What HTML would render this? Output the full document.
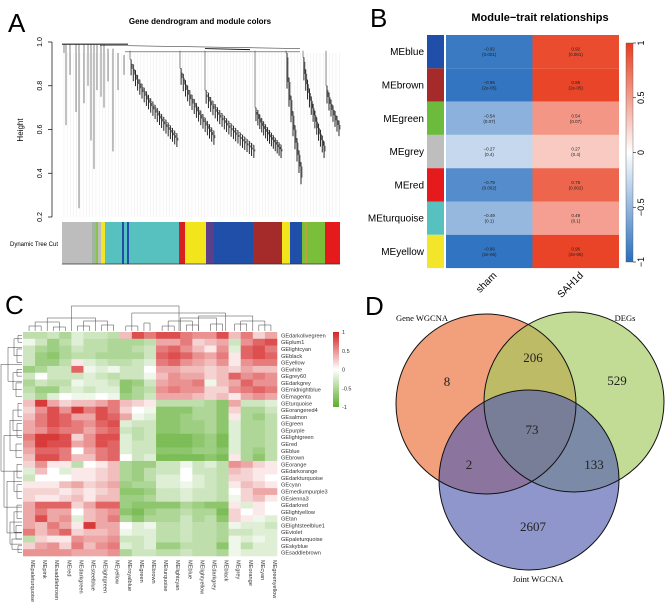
<!DOCTYPE html>
<html><head><meta charset="utf-8"><style>
html,body{margin:0;padding:0;background:#fff;}
svg{display:block;font-family:"Liberation Sans",sans-serif;}
</style></head><body>
<svg id="fig" width="669" height="602" viewBox="0 0 669 602" xmlns="http://www.w3.org/2000/svg">
  <g id="panelA">
    <text x="8" y="32" font-size="26">A</text>
    <text x="200" y="24" font-size="8" font-weight="bold" text-anchor="middle">Gene dendrogram and module colors</text>
    <text transform="translate(23,130) rotate(-90)" font-size="8" text-anchor="middle">Height</text>
    <text x="10" y="246" font-size="6">Dynamic Tree Cut</text>
  </g>
  <g id="panelB">
    <text x="370" y="27" font-size="26">B</text>
    <text x="540" y="21" font-size="11" font-weight="bold" text-anchor="middle">Module−trait relationships</text>
  </g>
  <g id="panelC">
    <text x="5" y="314" font-size="26">C</text>
  </g>
  <g id="panelD">
    <text x="365" y="315" font-size="26">D</text>
  </g>
</svg>
<script>
const NS="http://www.w3.org/2000/svg";
function mk(parent,tag,attrs,text){const e=document.createElementNS(NS,tag);for(const k in attrs)e.setAttribute(k,attrs[k]);if(text!==undefined)e.textContent=text;parent.appendChild(e);return e;}

/* ---------- Panel A data ---------- */
const aTicks=[1.0,0.8,0.6,0.4,0.2];
const aColorSegments=[["#bdbdbd",62,92],["#9fb6a0",92,96],["#8bc34a",96,98],["#bdbdbd",98,101],["#f2e52a",101,105],["#56c1be",105,122],["#1f4fa8",122,124],["#56c1be",124,127],["#1f4fa8",127,129],["#56c1be",129,179],["#d7201f",179,185],["#f2e51c",185,206],["#5b3f8a",206,214],["#1f4fa8",214,253],["#a52a2a",253,282],["#f2e51c",282,290],["#1f4fa8",290,302],["#79bf3a",302,305],["#c0a040",305,307],["#79bf3a",307,325],["#e41a1c",325,340]];
const aClusters=[[130,178,0.92,0.55,22],[180,215,0.88,0.56,16],[205,255,0.78,0.5,22],[255,282,0.7,0.5,14],[286,302,0.95,0.38,8],[303,325,0.93,0.5,12],[326,340,0.8,0.6,7]];
const aStems=[[64,0.99,0.95],[66,0.99,0.62],[70,0.99,0.85],[76,0.99,0.68],[79,0.99,0.24],[84,0.99,0.72],[88,0.99,0.8],[91,0.99,0.55],[94,0.99,0.42],[97,0.99,0.78],[101,0.99,0.75],[104,0.99,0.7],[108,0.97,0.82],[113,0.97,0.5],[118,0.95,0.78],[124,0.94,0.85]];
const gA=document.getElementById('panelA');
const ay=h=>42+(1-h)*218.75;
mk(gA,'line',{x1:52,y1:ay(1),x2:52,y2:ay(0.2),stroke:'#000','stroke-width':0.7});
aTicks.forEach(t=>{
  const tk=mk(gA,'line',{x1:48,y1:ay(t),x2:52,y2:ay(t),stroke:'#000','stroke-width':0.7});
  
  
  const lb=mk(gA,'text',{transform:`translate(42,${ay(t)}) rotate(-90)`,'font-size':7,'text-anchor':'middle'},t.toFixed(1));
  
  
});
for(let x=64;x<340;x+=3.2){mk(gA,'line',{x1:x,y1:ay(0.95),x2:x,y2:ay(0.2),stroke:'#d8d8d8','stroke-width':0.3});}
mk(gA,'line',{x1:62,y1:ay(0.99),x2:128,y2:ay(0.99),stroke:'#222','stroke-width':1.2});
mk(gA,'line',{x1:100,y1:ay(0.985),x2:300,y2:ay(0.97),stroke:'#444','stroke-width':0.6});
mk(gA,'line',{x1:125,y1:ay(0.955),x2:300,y2:ay(0.955),stroke:'#444','stroke-width':0.6});
mk(gA,'line',{x1:205,y1:ay(0.97),x2:250,y2:ay(0.965),stroke:'#111','stroke-width':1});
aStems.forEach(s=>{const l=mk(gA,'line',{x1:s[0],y1:ay(s[1]),x2:s[0],y2:ay(s[2]),stroke:'#333','stroke-width':0.6});
  
  });
aClusters.forEach(c=>{
  const [x0,x1,top,mn,n]=c;
  const g=mk(gA,'g',{});
  
  
  mk(g,'line',{x1:x0,y1:ay(top),x2:x0,y2:ay(0.96),stroke:'#444','stroke-width':0.6});
  let prevX=x0,prevH=top;
  for(let i=0;i<n;i++){
    const x=x0+(x1-x0)*(i+0.5)/n;
    const h=top-(top-mn)*Math.pow((i+1)/n,0.7);
    mk(g,'line',{x1:prevX,y1:ay(prevH),x2:x,y2:ay(prevH),stroke:'#444','stroke-width':0.5});
    mk(g,'line',{x1:x,y1:ay(prevH),x2:x,y2:ay(h-0.03),stroke:'#111','stroke-width':0.9});
    mk(g,'line',{x1:x+1,y1:ay(prevH-0.02),x2:x+1,y2:ay(h),stroke:'#222','stroke-width':0.6});
    prevX=x;prevH=h+0.02;
  }
});
aColorSegments.forEach(s=>{const r=mk(gA,'rect',{x:s[1],y:222,width:s[2]-s[1],height:42,fill:s[0]});
  
  });
mk(gA,'line',{x1:62,y1:264,x2:340,y2:264,stroke:'#333','stroke-width':0.8});

/* ---------- Panel B data ---------- */
const bModules=["MEblue","MEbrown","MEgreen","MEgrey","MEred","MEturquoise","MEyellow"];
const bModuleColors=["#1f4fa8","#a52a2a","#6cbb3c","#bebebe","#e41a1c","#56c1be","#f2e52a"];
const bTraits=["sham","SAH1d"];
const bSham=[-0.92,-0.95,-0.54,-0.27,-0.79,-0.49,-0.96];
const bSah=[0.92,0.95,0.54,0.27,0.79,0.49,0.96];
const bPvals=["(0.001)","(2e-05)","(0.07)","(0.4)","(0.002)","(0.1)","(2e-06)"];
const bBarTicks=[1,0.5,0,-0.5,-1];
const gB=document.getElementById('panelB');
function bColor(v){const t=Math.min(1,Math.abs(v));
  if(v<0)return `rgb(${Math.round(255-t*215)},${Math.round(255-t*145)},${Math.round(255-t*65)})`;
  return `rgb(${Math.round(255-t*23)},${Math.round(255-t*195)},${Math.round(255-t*225)})`;}
const bTop=35,bRowH=33.3,bCol0=446,bColW=86.5;
bModules.forEach((m,i)=>{
  const y=bTop+i*bRowH;
  const sw=mk(gB,'rect',{x:427,y:y,width:17,height:bRowH,fill:bModuleColors[i]});
  
  
  const lb=mk(gB,'text',{x:424,y:y+bRowH/2+3.5,'font-size':10,'text-anchor':'end'},m);
  
  
  [bSham[i],bSah[i]].forEach((v,j)=>{
    const x=bCol0+j*bColW;
    const c=mk(gB,'rect',{x:x,y:y,width:bColW,height:bRowH,fill:bColor(v)});
    
    
    const t=mk(gB,'text',{x:x+bColW/2,y:y+bRowH/2-1,'font-size':4.5,'text-anchor':'middle',fill:'#222'},(v<0?'−':'')+Math.abs(v).toFixed(2));
    
    
    const p=mk(gB,'text',{x:x+bColW/2,y:y+bRowH/2+4.5,'font-size':4.5,'text-anchor':'middle',fill:'#222'},bPvals[i]);
    
    
  });
});
bTraits.forEach((t,j)=>{const x=bCol0+j*bColW+bColW/2;
  const l=mk(gB,'text',{transform:`translate(${x+8},${276}) rotate(-45)`,'font-size':10,'text-anchor':'end'},t);
  
  });
const bg=mk(gB,'defs',{});const lg=mk(bg,'linearGradient',{id:'bgrad',x1:0,y1:1,x2:0,y2:0});
[-1,-0.5,0,0.5,1].forEach((v,i)=>mk(lg,'stop',{offset:i*25+'%','stop-color':bColor(v)}));
const bbar=mk(gB,'rect',{x:626,y:43,width:7,height:219,fill:'url(#bgrad)',stroke:'#555','stroke-width':0.4});


bBarTicks.forEach(t=>{const y=43+(1-t)/2*219;
  mk(gB,'line',{x1:633,y1:y,x2:636,y2:y,stroke:'#000','stroke-width':0.6});
  const l=mk(gB,'text',{transform:`translate(644,${y}) rotate(-90)`,'font-size':9,'text-anchor':'middle'},t===0?'0':(t<0?'−':'')+Math.abs(t));
  
  });

/* ---------- Panel C data ---------- */
const cCols=["MEpaleturquoise","MEpink","MEsaddlebrown","MEred","MEdarkgreen","MEsteelblue","MElightgreen","MEyellow","MEroyalblue","MEgreen","MEbrown","MEturquoise","MElightcyan","MEblue","MElightyellow","MEdarkgrey","MEblack","MEgrey","MEorange","MEcyan","MEgreenyellow"];
const cRows=["GEdarkolivegreen","GEplum1","GElightcyan","GEblack","GEyellow","GEwhite","GEgrey60","GEdarkgrey","GEmidnightblue","GEmagenta","GEturquoise","GEorangered4","GEsalmon","GEgreen","GEpurple","GElightgreen","GEred","GEblue","GEbrown","GEorange","GEdarkorange","GEdarkturquoise","GEcyan","GEmediumpurple3","GEsienna3","GEdarkred","GElightyellow","GEtan","GElightsteelblue1","GEviolet","GEpaleturquoise","GEskyblue","GEsaddlebrown"];
const cValues=[
[-0.4,-0.4,-0.3,-0.5,-0.2,-0.3,-0.3,-0.4,0.3,0.8,0.6,0.8,0.8,0.6,0.5,0.5,0.8,0.3,0.6,0.2,0.4],
[-0.1,-0.3,-0.6,-0.4,-0.2,-0.4,-0.4,-0.5,-0.5,-0.5,-0.4,0.4,0.4,0.6,0.2,0.3,0.4,-0.3,0.5,0.7,0.8],
[-0.3,-0.5,-0.6,-0.5,-0.3,-0.4,-0.4,-0.5,-0.5,-0.4,-0.3,0.6,0.7,0.5,0.3,0.1,0.5,-0.2,0.7,0.8,0.6],
[-0.3,-0.6,-0.7,-0.5,-0.4,-0.4,-0.5,-0.5,-0.5,-0.5,-0.3,0.7,0.8,0.7,0.5,0.4,0.6,0.1,0.7,0.8,0.7],
[-0.3,-0.6,-0.6,-0.4,0.1,-0.2,-0.3,-0.4,-0.4,-0.3,-0.2,0.6,0.7,0.5,0.4,0.3,0.5,0.1,0.5,0.6,0.6],
[-0.6,-0.5,-0.3,-0.3,0.7,-0.1,-0.2,-0.1,-0.3,-0.3,0.0,0.4,0.4,0.3,0.3,0.2,0.3,0.2,0.4,0.3,0.3],
[-0.3,0.0,-0.3,-0.3,-0.3,-0.2,-0.3,-0.4,-0.3,-0.3,-0.1,0.3,0.5,0.4,0.4,0.2,0.3,0.7,0.5,0.6,0.5],
[-0.5,-0.3,-0.4,-0.4,-0.1,-0.2,-0.2,-0.3,-0.7,-0.6,-0.3,0.4,0.5,0.5,0.6,-0.1,0.3,0.4,0.7,0.5,0.5],
[-0.4,-0.6,-0.6,-0.3,-0.2,-0.3,-0.2,-0.2,-0.7,-0.5,-0.4,0.5,0.6,0.5,0.5,0.2,0.2,0.5,0.6,0.7,0.6],
[-0.3,-0.5,-0.2,0.0,-0.1,-0.1,0.0,-0.1,-0.6,-0.5,-0.3,0.4,0.4,0.4,0.3,0.2,0.3,0.1,0.4,0.5,0.4],
[0.3,0.9,0.4,0.2,0.3,0.3,0.4,0.6,0.3,0.2,0.1,-0.4,-0.4,-0.4,-0.4,-0.5,-0.7,0.4,-0.3,-0.3,-0.2],
[0.2,0.5,0.8,0.5,0.9,0.6,0.8,0.6,0.2,0.0,-0.1,-0.7,-0.7,-0.7,-0.5,-0.5,-0.7,0.2,-0.5,-0.5,-0.3],
[0.3,0.6,0.8,0.7,0.4,0.4,0.8,0.7,0.4,-0.1,-0.2,-0.7,-0.7,-0.6,-0.5,-0.5,-0.7,0.1,-0.5,-0.6,-0.4],
[0.4,0.6,0.8,0.7,0.6,0.5,0.7,0.8,-0.2,-0.3,-0.3,-0.7,-0.7,-0.6,-0.6,-0.5,-0.7,-0.2,-0.5,-0.5,-0.4],
[0.4,0.5,0.7,0.6,0.6,0.4,0.6,0.7,-0.3,-0.4,-0.3,-0.7,-0.7,-0.6,-0.6,-0.5,-0.7,-0.2,-0.5,-0.5,-0.4],
[0.6,0.9,0.9,0.8,0.2,0.5,0.8,0.8,-0.2,-0.4,-0.3,-0.8,-0.8,-0.8,-0.7,-0.6,-0.8,-0.2,-0.5,-0.5,-0.4],
[0.5,0.9,0.8,0.8,0.4,0.5,0.8,0.7,-0.2,-0.3,-0.3,-0.8,-0.8,-0.8,-0.7,-0.6,-0.8,-0.2,-0.5,-0.5,-0.4],
[0.4,0.7,0.7,0.6,0.0,0.4,0.6,0.7,-0.2,-0.3,-0.3,-0.7,-0.7,-0.7,-0.6,-0.6,-0.7,-0.2,-0.5,-0.6,-0.4],
[0.3,0.8,0.8,0.6,0.3,0.3,0.6,0.7,0.0,-0.3,-0.2,-0.8,-0.8,-0.8,-0.8,-0.7,-0.8,0.1,-0.5,-0.7,-0.4],
[0.2,0.5,0.1,0.1,-0.4,0.0,0.1,0.3,-0.5,-0.6,-0.6,-0.3,-0.3,-0.1,-0.3,-0.2,-0.4,0.5,0.4,0.2,0.1],
[-0.2,0.3,0.0,-0.2,0.1,0.1,0.2,0.3,-0.5,-0.6,-0.4,-0.3,-0.3,0.0,-0.3,-0.3,-0.4,0.3,0.2,0.1,0.1],
[-0.3,0.0,0.0,0.0,0.1,0.1,0.2,0.3,-0.5,-0.6,-0.4,-0.2,-0.2,0.0,-0.2,-0.3,-0.4,0.2,0.2,0.1,0.0],
[0.1,0.1,0.1,0.3,0.4,0.2,0.3,0.4,-0.6,-0.5,-0.5,-0.2,-0.2,-0.1,-0.2,-0.3,-0.4,0.1,0.3,0.2,0.1],
[0.2,0.2,0.2,0.1,0.2,0.1,0.2,0.3,-0.7,-0.7,-0.6,-0.3,-0.3,-0.2,-0.3,-0.3,-0.4,0.0,0.2,0.4,0.4],
[0.2,0.1,0.1,0.2,0.3,0.1,0.3,0.3,-0.6,-0.6,-0.5,-0.3,-0.3,-0.2,-0.3,-0.3,-0.4,-0.1,0.2,0.3,0.1],
[0.4,0.7,0.7,0.7,0.2,0.4,0.7,0.7,-0.6,-0.7,-0.7,-0.7,-0.7,-0.5,-0.6,-0.7,-0.7,0.1,-0.2,0.1,0.0],
[0.4,0.6,0.4,0.4,0.0,0.3,0.4,0.5,-0.7,-0.8,-0.6,-0.5,-0.5,-0.4,-0.5,-0.5,-0.8,0.2,0.0,0.1,0.0],
[0.4,0.8,0.4,0.5,-0.2,0.3,0.4,0.6,-0.5,-0.7,-0.5,-0.5,-0.5,-0.3,-0.5,-0.4,-0.7,0.2,0.1,-0.1,-0.2],
[0.4,0.3,0.6,0.4,0.1,0.9,0.4,0.4,0.0,-0.2,-0.1,-0.4,-0.4,-0.3,-0.4,-0.4,-0.5,-0.1,-0.2,-0.2,-0.3],
[0.6,0.3,0.5,0.7,0.2,0.3,0.3,0.4,-0.1,-0.2,-0.2,-0.4,-0.4,-0.3,-0.4,-0.4,-0.5,-0.3,-0.3,-0.2,-0.2],
[-0.4,0.2,0.1,0.1,0.5,0.4,0.4,0.5,-0.3,-0.3,-0.2,-0.4,-0.4,-0.3,-0.4,-0.4,-0.5,-0.1,-0.2,-0.1,-0.2],
[0.2,0.4,0.5,0.2,0.6,0.3,0.5,0.6,-0.2,-0.3,-0.2,-0.6,-0.6,-0.4,-0.4,-0.4,-0.7,-0.1,-0.4,-0.2,-0.2],
[0.5,0.5,0.5,0.5,0.4,0.4,0.4,0.5,-0.5,-0.3,-0.3,-0.4,-0.4,-0.3,-0.4,-0.4,-0.5,-0.1,-0.2,-0.2,-0.2]];
const cBarTicks=[1,0.5,0,-0.5,-1];
const gC=document.getElementById('panelC');
function cColor(v){const t=Math.min(1,Math.abs(v));
  if(v<0)return `rgb(${Math.round(255-t*163)},${Math.round(255-t*82)},${Math.round(255-t*210)})`;
  return `rgb(${Math.round(255-t*43)},${Math.round(255-t*220)},${Math.round(255-t*220)})`;}
const cX0=23,cY0=332,cW=(277-23)/cCols.length,cH=(556-332)/cRows.length;
cValues.forEach((row,i)=>row.forEach((v,j)=>{
  const r=mk(gC,'rect',{x:cX0+j*cW,y:cY0+i*cH,width:cW+0.3,height:cH+0.3,fill:cColor(v)});
  
  
}));
cRows.forEach((n,i)=>{const t=mk(gC,'text',{x:281,y:cY0+i*cH+cH/2+2,'font-size':5.6,fill:'#333'},n);
  
  });
cCols.forEach((n,j)=>{const x=cX0+j*cW+cW/2;
  const t=mk(gC,'text',{transform:`translate(${x+2},560) rotate(90)`,'font-size':5.6,fill:'#333'},n);
  
  });
const cg=mk(gC,'defs',{});const lg2=mk(cg,'linearGradient',{id:'cgrad',x1:0,y1:1,x2:0,y2:0});
[-1,-0.5,0,0.5,1].forEach((v,i)=>mk(lg2,'stop',{offset:i*25+'%','stop-color':cColor(v)}));
const cbar=mk(gC,'rect',{x:333,y:332,width:6,height:75,fill:'url(#cgrad)'});


cBarTicks.forEach(t=>{const l=mk(gC,'text',{x:342,y:332+(1-t)/2*75+2,'font-size':5.5,fill:'#333'},t===0?'0':String(t));
  
  });
// top dendrogram
const topD=[[0,1,326],[2,3,327],[4,5,326],[6,7,325],[0.5,2.5,322],[4.5,6.5,321],[1.5,5.5,318],[8,9,326],[9.5,10,323],[11,12,326],[13,14,325],[15,16,324],[11.5,13.5,321],[12.5,15.5,318],[17,18,324],[19,20,325],[17.5,19.5,321],[14,18.5,316],[8.5,16.25,313],[3.5,12.4,306]];
topD.forEach(d=>{const xa=cX0+(d[0]+0.5)*cW,xb=cX0+(d[1]+0.5)*cW;
  const p=mk(gC,'path',{d:`M${xa},331 V${d[2]} H${xb} V331`,fill:'none',stroke:'#444','stroke-width':0.5});
  
  });
const leftD=[[0,1,18],[2,4,17],[0.5,3,14],[5,6,17],[7,9,16],[5.5,8,13],[1.75,6.75,8],[10,12,18],[13,15,17],[16,18,16],[11,14,13],[12.5,17,10],[19,21,17],[22,24,17],[20,23,14],[25,27,17],[28,30,16],[31,32,18],[26,29,14],[30,31.5,12],[27.5,30.75,10],[21.5,29.1,7],[14.75,25.3,4],[4.25,20,1]];
leftD.forEach(d=>{const ya=cY0+(d[0]+0.5)*cH,yb=cY0+(d[1]+0.5)*cH;
  const p=mk(gC,'path',{d:`M22,${ya} H${d[2]} V${yb} H22`,fill:'none',stroke:'#444','stroke-width':0.5});
  
  });

/* ---------- Panel D data ---------- */
const dSets=["Gene WGCNA","DEGs","Joint WGCNA"];
const dRegionCounts=[8,206,529,73,2,133,2607];
const gD=document.getElementById('panelD');
const dCircles=[[486,404,'#eb6d36'],[574,402,'#a2c95c'],[529,480,'#535eb1']];
dCircles.forEach((c,i)=>{const e=mk(gD,'circle',{cx:c[0],cy:c[1],r:90,fill:c[2],'fill-opacity':0.65});
  
  });
dCircles.forEach(c=>mk(gD,'circle',{cx:c[0],cy:c[1],r:90,fill:'none',stroke:'#111','stroke-width':1}));
const dLabelPos=[[422,321],[625,321],[538,582]];
dSets.forEach((s,i)=>{const t=mk(gD,'text',{x:dLabelPos[i][0],y:dLabelPos[i][1],'font-size':8.5,'text-anchor':'middle','font-family':'Liberation Serif, serif'},s);
  
  });
const dCountPos=[[447,386],[533,362],[617,385],[532,434],[469,469],[594,469],[533,531]];
dRegionCounts.forEach((n,i)=>{const t=mk(gD,'text',{x:dCountPos[i][0],y:dCountPos[i][1],'font-size':13,'text-anchor':'middle','font-family':'Liberation Serif, serif',fill:'#222'},String(n));
  
  });
</script>
</body></html>
